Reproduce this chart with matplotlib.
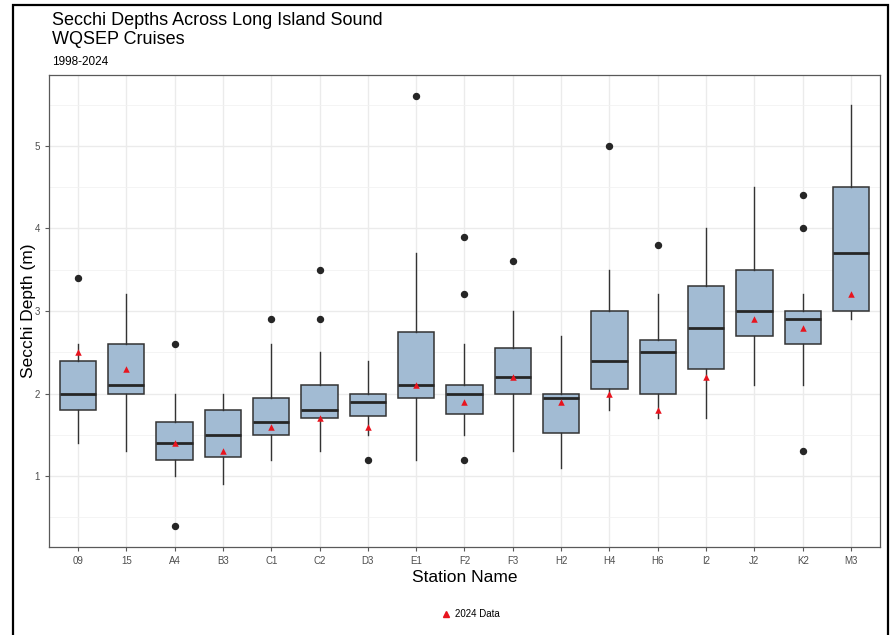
import matplotlib
matplotlib.use('Agg')
import matplotlib.pyplot as plt
from matplotlib.lines import Line2D
from matplotlib.patches import Rectangle

plt.rcParams['font.family'] = ['Liberation Sans', 'DejaVu Sans']

# Secchi depth summary per station, 1998-2024
stations = ['09', '15', 'A4', 'B3', 'C1', 'C2', 'D3', 'E1', 'F2',
            'F3', 'H2', 'H4', 'H6', 'I2', 'J2', 'K2', 'M3']
whislo = [1.4, 1.3, 1.0, 0.9, 1.2, 1.3, 1.5, 1.2, 1.5,
          1.3, 1.1, 1.8, 1.7, 1.7, 2.1, 2.1, 2.9]
q1 = [1.8, 2.0, 1.2, 1.225, 1.5, 1.7, 1.725, 1.95, 1.75,
      2.0, 1.525, 2.05, 2.0, 2.3, 2.7, 2.6, 3.0]
med = [2.0, 2.1, 1.4, 1.5, 1.65, 1.8, 1.9, 2.1, 2.0,
       2.2, 1.95, 2.4, 2.5, 2.8, 3.0, 2.9, 3.7]
q3 = [2.4, 2.6, 1.65, 1.8, 1.95, 2.1, 2.0, 2.75, 2.1,
      2.55, 2.0, 3.0, 2.65, 3.3, 3.5, 3.0, 4.5]
whishi = [2.6, 3.2, 2.0, 2.0, 2.6, 2.5, 2.4, 3.7, 2.6,
          3.0, 2.7, 3.5, 3.2, 4.0, 4.5, 3.2, 5.5]
outliers = [[3.4], [], [2.6, 0.4], [], [2.9], [3.5, 2.9], [1.2], [5.6], [3.9, 3.2, 1.2],
            [3.6], [], [5.0], [3.8], [], [], [4.4, 4.0, 1.3], []]
data_2024 = [2.5, 2.3, 1.4, 1.3, 1.6, 1.7, 1.6, 2.1, 1.9,
             2.2, 1.9, 2.0, 1.8, 2.2, 2.9, 2.8, 3.2]

fig = plt.figure(figsize=(8.95, 6.35), dpi=100)
ax = fig.add_axes([49 / 895, (635 - 547) / 635, (880 - 49) / 895, (547 - 75) / 635])

positions = list(range(1, len(stations) + 1))
stats = []
for i in range(len(stations)):
    stats.append({
        'whislo': whislo[i], 'q1': q1[i], 'med': med[i],
        'q3': q3[i], 'whishi': whishi[i], 'fliers': outliers[i],
    })

ax.bxp(
    stats, positions=positions, widths=0.75, patch_artist=True,
    showcaps=False,
    boxprops=dict(facecolor='#A2BBD3', edgecolor='#333333', linewidth=1.1),
    medianprops=dict(color='#262626', linewidth=2.0, solid_capstyle='butt'),
    whiskerprops=dict(color='#333333', linewidth=1.0),
    flierprops=dict(marker='o', markerfacecolor='#262626', markeredgecolor='#262626',
                    markersize=4.3),
    zorder=2,
)

# 2024 values
ax.scatter(positions, data_2024, marker='^', color='#E8141E', s=22, zorder=4,
           linewidths=0)

# ggplot-like bw theme
ax.set_xlim(0.4, len(stations) + 0.6)
ax.set_ylim(0.14, 5.86)
ax.set_yticks([1, 2, 3, 4, 5])
ax.set_yticks([0.5, 1.5, 2.5, 3.5, 4.5, 5.5], minor=True)
ax.set_xticks(positions)
ax.set_xticklabels(stations)
ax.grid(which='major', color='#EBEBEB', linewidth=1.0, zorder=0)
ax.grid(which='minor', axis='y', color='#F2F2F2', linewidth=0.6, zorder=0)
ax.set_axisbelow(True)
for side in ax.spines.values():
    side.set_color('#595959')
    side.set_linewidth(0.9)
ax.tick_params(which='major', length=3, color='#595959', labelcolor='#4D4D4D',
               labelsize=7, width=0.8)
ax.tick_params(which='minor', length=0)

ax.set_xlabel('Station Name', fontsize=12.5, labelpad=3)
ax.set_ylabel('Secchi Depth (m)', fontsize=12.5)
ax.yaxis.set_label_coords(-13 / 831, 0.5)

fig.text(52 / 895, 1 - 12 / 635, 'Secchi Depths Across Long Island Sound\nWQSEP Cruises',
         fontsize=13, va='top', ha='left', linespacing=1.18)
fig.text(52 / 895, 1 - 62 / 635, '1998-2024', fontsize=8.5, va='center', ha='left')

handle = Line2D([], [], marker='^', color='#E8141E', linestyle='none', markersize=5)
fig.legend([handle], ['2024 Data'], loc='center', bbox_to_anchor=(470 / 895, 1 - 614 / 635),
           frameon=False, fontsize=7, handletextpad=0.4, handlelength=1.2)

# black frame round the figure
fig.patches.append(Rectangle((13 / 895, -0.05), (888 - 13) / 895, 1.05 - 5 / 635,
                             transform=fig.transFigure, fill=False,
                             edgecolor='black', linewidth=1.6))

fig.savefig('out.png', dpi=100)
